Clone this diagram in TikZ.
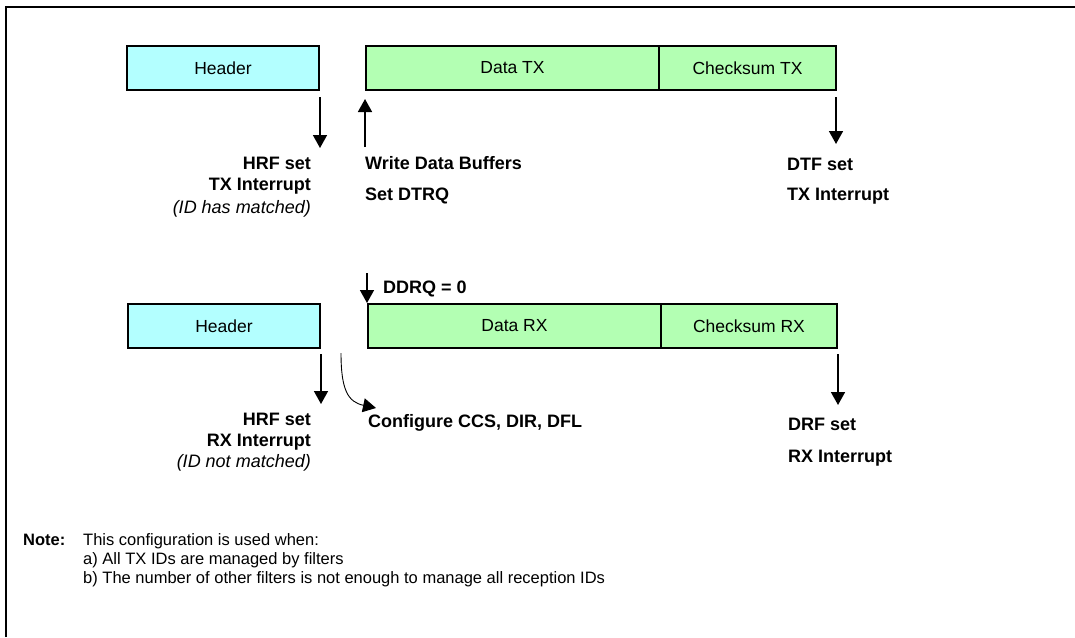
\documentclass[tikz,border=0pt]{standalone}
\usepackage{fontspec}
\setmainfont{Liberation Sans}
\usetikzlibrary{arrows.meta,calc}
\definecolor{hdrcol}{RGB}{179,255,255}
\definecolor{datacol}{RGB}{179,255,179}
\begin{document}
\begin{tikzpicture}[x=1pt,y=-1pt,
  field/.style={draw,line width=2pt,inner sep=0pt,anchor=north west,minimum height=44pt,
    font=\fontsize{17.5}{18}\selectfont},
  hdrbox/.style={field,fill=hdrcol},
  databox/.style={field,fill=datacol},
  lbl/.style={inner sep=0pt,font=\fontsize{18}{18}\selectfont\bfseries},
  lblit/.style={inner sep=0pt,font=\fontsize{18}{18}\selectfont\itshape},
  notetxt/.style={inner sep=0pt,anchor=base west,font=\fontsize{16.5}{17}\selectfont},
  arr/.style={line width=1.6pt,-{Triangle[length=13pt,width=14pt]}},
  frame/.style={line width=2pt}]
\useasboundingbox (0,0) rectangle (1075,637);
\draw[frame] (6,637) -- (6,6.5) -- (1075,6.5);
% TX row
\node[hdrbox,minimum width=192pt] (hdrTX) at (126,45) {Header};
\node[databox,minimum width=293pt] (dataTX) at (365,45) {Data TX};
\node[databox,minimum width=177pt] (csTX) at (658,45) {Checksum TX};
% RX row
\node[hdrbox,minimum width=192pt] (hdrRX) at (127,303) {Header};
\node[databox,minimum width=293pt] (dataRX) at (367,303) {Data RX};
\node[databox,minimum width=176pt] (csRX) at (660,303) {Checksum RX};
% TX labels
\node[lbl,anchor=base east] (hrfTX1) at (311,169) {HRF set};
\node[lbl,anchor=base east] (hrfTX2) at (311,190) {TX Interrupt};
\node[lblit,anchor=base east] (hrfTX3) at (311,213) {(ID has matched)};
\node[lbl,anchor=base west] (wdb1) at (365,169) {Write Data Buffers};
\node[lbl,anchor=base west] (wdb2) at (365,200) {Set DTRQ};
\node[lbl,anchor=base west] (dtf1) at (787,170) {DTF set};
\node[lbl,anchor=base west] (dtf2) at (787,200) {TX Interrupt};
% RX labels
\node[lbl,anchor=base west] (ddrq) at (383,293) {DDRQ = 0};
\node[lbl,anchor=base east] (hrfRX1) at (311,425) {HRF set};
\node[lbl,anchor=base east] (hrfRX2) at (311,446) {RX Interrupt};
\node[lblit,anchor=base east] (hrfRX3) at (311,467) {(ID not matched)};
\node[lbl,anchor=base west] (cfg) at (368,427) {Configure CCS, DIR, DFL};
\node[lbl,anchor=base west] (drf1) at (788,430) {DRF set};
\node[lbl,anchor=base west] (drf2) at (788,462) {RX Interrupt};
% Note
\node[notetxt,font=\fontsize{16.5}{17}\selectfont\bfseries] (note) at (23,545) {Note:};
\node[notetxt] (note1) at (83,545) {This configuration is used when:};
\node[notetxt] (note2) at (83,564) {a) All TX IDs are managed by filters};
\node[notetxt] (note3) at (83,583) {b) The number of other filters is not enough to manage all reception IDs};
% arrow end coordinates
\coordinate (tA0) at ($(hdrTX.south east)+(0,6)$);
\coordinate (tA1) at ($(hdrTX.south east)+(0,57)$);
\coordinate (tB0) at ($(dataTX.south west)+(0,56)$);
\coordinate (tB1) at ($(dataTX.south west)+(0,8)$);
\coordinate (tC0) at ($(csTX.south east)+(-1,6)$);
\coordinate (tC1) at ($(csTX.south east)+(-1,53)$);
\coordinate (rD0) at ($(dataRX.north west)+(0,-30)$);
\coordinate (rA0) at ($(hdrRX.south east)+(0,5)$);
\coordinate (rA1) at ($(hdrRX.south east)+(0,55)$);
\coordinate (rK0) at (341,353);
\coordinate (rK1) at (376,408);
\coordinate (rC0) at ($(csRX.south east)+(0,5)$);
\coordinate (rC1) at ($(csRX.south east)+(0,56)$);
% TX arrows
\draw[arr] (tA0) -- (tA1);
\draw[arr] (tB0) -- (tB1);
\draw[arr] (tC0) -- (tC1);
% RX arrows
\draw[arr] (rD0) -- (dataRX.north west);
\draw[arr] (rA0) -- (rA1);
\draw[line width=0.9pt,-{Triangle[length=13pt,width=14pt]}] (rK0) .. controls (341,390) and (348,402) .. (rK1);
\draw[arr] (rC0) -- (rC1);
\end{tikzpicture}
\end{document}
